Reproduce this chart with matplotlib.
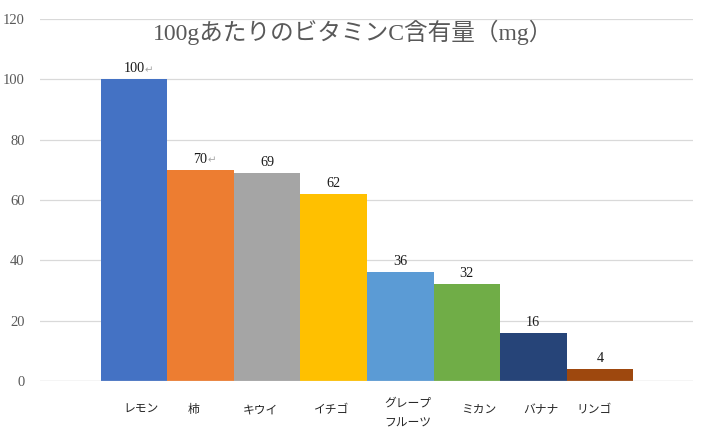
import matplotlib
matplotlib.use("Agg")
import matplotlib.pyplot as plt
import numpy as np

plt.rcParams['font.family'] = ['Liberation Serif', 'Noto Sans CJK JP', 'DejaVu Sans']

categories = ["レモン", "柿", "キウイ", "イチゴ", "グレープ\nフルーツ", "ミカン", "バナナ", "リンゴ"]
values = [100, 70, 69, 62, 36, 32, 16, 4]
value_marks = ["↵", "↵", "", "", "", "", "", ""]
colors = ["#4472C4", "#ED7D31", "#A5A5A5", "#FFC000", "#5B9BD5", "#70AD47", "#264478", "#9E480E"]
title = "100gあたりのビタミンC含有量（mg）"
yticks = [0, 20, 40, 60, 80, 100, 120]

# small horizontal nudges of category labels (layout only)
label_nudge = [0.1, -0.1, -0.1, -0.03, 0.12, 0.18, 0.12, -0.09]

fig = plt.figure(figsize=(7.03, 4.48), dpi=100)
ax = fig.add_axes([40/703, 1-381/448, (693-40)/703, (381-19)/448])

x = np.arange(len(categories))
ax.bar(x, values, width=1.0, color=colors, zorder=2)

ax.set_ylim(0, 120)
ax.set_xlim(-1.414, 8.40)
ax.set_yticks(yticks)
ax.set_yticklabels([str(t) for t in yticks], fontsize=10.5, color="#595959",
                   family=['Liberation Serif'])
ax.tick_params(axis='y', length=0, pad=11)
ax.tick_params(axis='x', length=0)
ax.set_xticks([])
ax.grid(axis='y', color="#d9d9d9", linewidth=0.9, zorder=0)
for s in ['top', 'right', 'left', 'bottom']:
    ax.spines[s].set_visible(False)
ax.axhline(0, color="#d9d9d9", linewidth=0.9, zorder=3)

for xi, v, m in zip(x, values, value_marks):
    ax.annotate(str(v), (xi, v), xytext=(0, 3.0), textcoords='offset points',
                ha='center', va='bottom', fontsize=10.2, color="#1a1a1a",
                family=['Liberation Serif'])
    if m:
        ndig = len(str(v))
        ax.annotate(m, (xi, v), xytext=(ndig * 2.55 + 0.2, 3.0), textcoords='offset points',
                    ha='left', va='bottom', fontsize=7.5, color="#a6a6a6",
                    family=['DejaVu Sans'])

for xi, lab, dx in zip(x, categories, label_nudge):
    lines = lab.split("\n")
    if len(lines) == 1:
        ax.annotate(lab, (xi + dx, 0), xytext=(0, -20.5), textcoords='offset points',
                    ha='center', va='center', fontsize=8.5, color="#262626",
                    family=['Noto Sans CJK JP'])
    else:
        ax.annotate(lines[0], (xi + dx, 0), xytext=(0, -16), textcoords='offset points',
                    ha='center', va='center', fontsize=8.5, color="#262626",
                    family=['Noto Sans CJK JP'])
        ax.annotate(lines[1], (xi + dx, 0), xytext=(0, -30.5), textcoords='offset points',
                    ha='center', va='center', fontsize=8.5, color="#262626",
                    family=['Noto Sans CJK JP'])

fig.text(353/703, 1-32/448, title, ha='center', va='center', fontsize=17,
         color="#595959", family=['Liberation Serif', 'Noto Sans CJK JP'])

fig.savefig("out.png", dpi=100)
